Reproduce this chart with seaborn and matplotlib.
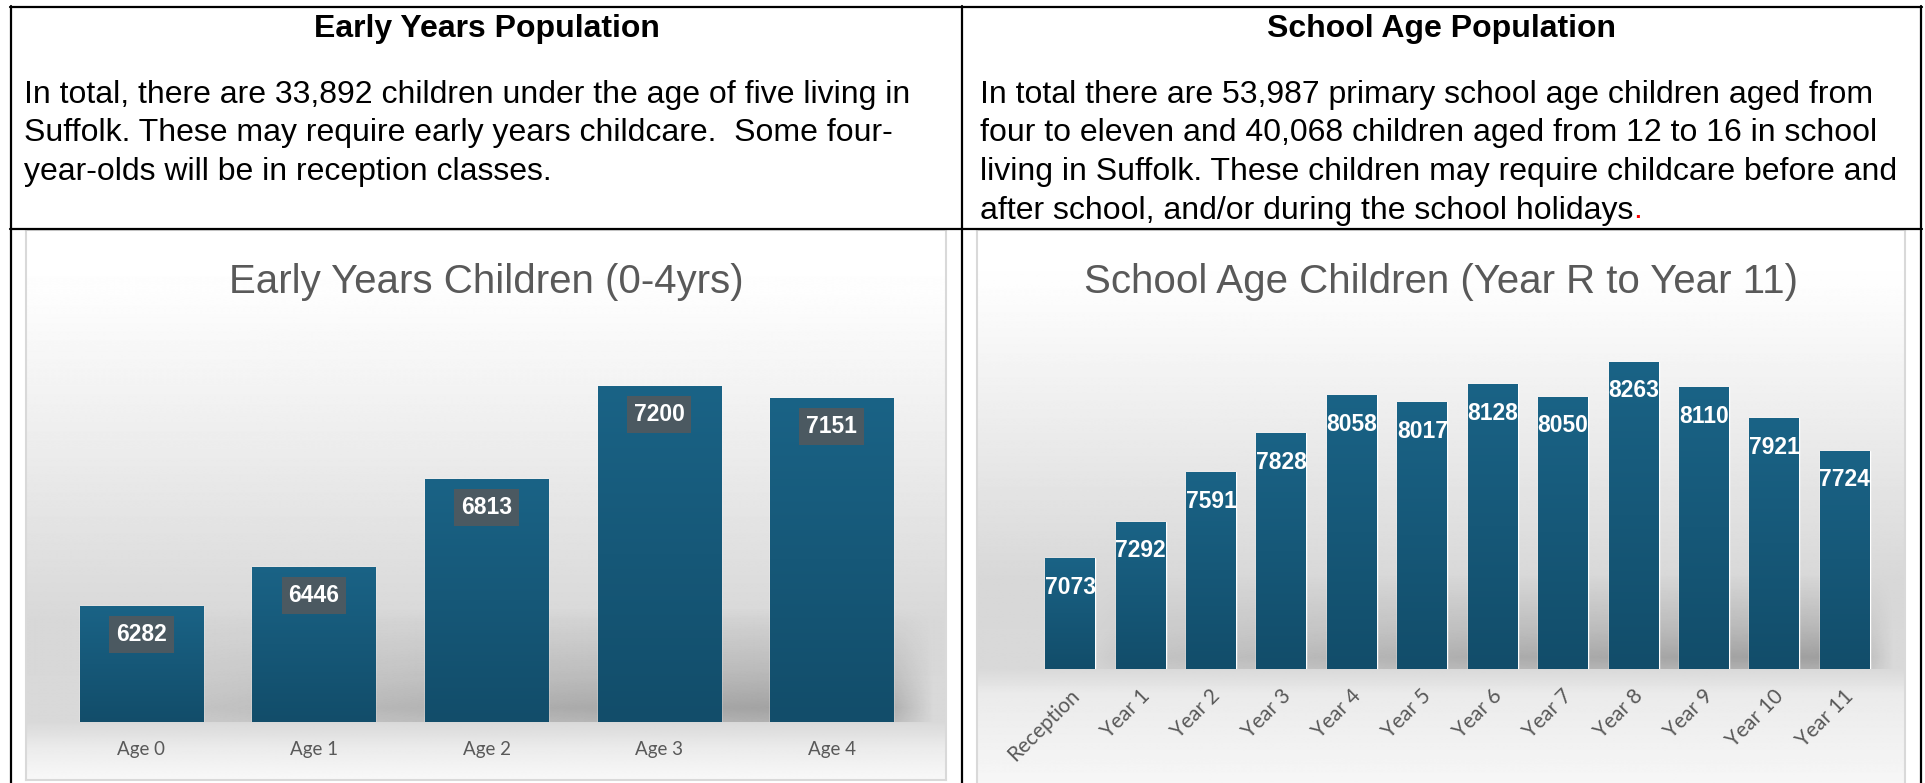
import numpy as np
import pandas as pd
import matplotlib
matplotlib.use("Agg")
import matplotlib.pyplot as plt
import seaborn as sns
from matplotlib.colors import LinearSegmentedColormap
from matplotlib.lines import Line2D
from matplotlib.transforms import ScaledTranslation

# ---------------- data ----------------
early_cats = ["Age 0", "Age 1", "Age 2", "Age 3", "Age 4"]
early_vals = [6282, 6446, 6813, 7200, 7151]

school_cats = ["Reception", "Year 1", "Year 2", "Year 3", "Year 4", "Year 5",
               "Year 6", "Year 7", "Year 8", "Year 9", "Year 10", "Year 11"]
school_vals = [7073, 7292, 7591, 7828, 8058, 8017, 8128, 8050, 8263, 8110, 7921, 7724]

left_header = "Early Years Population"
right_header = "School Age Population"
left_lines = [
    "In total, there are 33,892 children under the age of five living in",
    "Suffolk. These may require early years childcare.  Some four-",
    "year-olds will be in reception classes.",
]
right_lines = [
    "In total there are 53,987 primary school age children aged from",
    "four to eleven and 40,068 children aged from 12 to 16 in school",
    "living in Suffolk. These children may require childcare before and",
    "after school, and/or during the school holidays",
]
left_title = "Early Years Children (0-4yrs)"
right_title = "School Age Children (Year R to Year 11)"

# ---------------- setup ----------------
W, H = 1925, 783
sns.set_theme(style="white")
plt.rcParams['font.family'] = ['Liberation Sans', 'DejaVu Sans']
fig = plt.figure(figsize=(W / 100, H / 100), dpi=100)
fig.patch.set_facecolor("white")

GRAY_TXT = "#595959"
BAR_TOP = "#1a6386"
BAR_BOT = "#124d6a"
LABEL_BOX = "#4b5961"
NARROW = ['Liberation Sans Narrow', 'Liberation Sans', 'DejaVu Sans']
TICKF = ['Lato', 'Liberation Sans', 'DejaVu Sans']


def px_axes(x0, y0, x1, y1, z=0):
    ax = fig.add_axes([x0 / W, 1 - y1 / H, (x1 - x0) / W, (y1 - y0) / H], zorder=z)
    return ax


def fx(px):
    return px / W


def fy(py):
    return 1 - py / H


# ---------------- chart background boxes ----------------
def chart_box(x0, y0, x1, y1, base):
    ax = px_axes(x0, y0, x1, y1, z=0)
    n = 600
    ys = np.linspace(y0, y1, n)
    top_h = base - y0
    pos = [y0, y0 + 0.12 * top_h, y0 + 0.45 * top_h, y0 + 0.8 * top_h, base, base + 25, y1]
    val = [1.0, 0.995, 0.925, 0.845, 0.85, 0.92, 0.975]
    g = np.interp(ys, pos, val)
    img = np.repeat(g[:, None], 2, axis=1)
    ax.imshow(img, cmap="gray", vmin=0, vmax=1, aspect="auto",
              extent=[0, 1, 0, 1], origin="upper", interpolation="bilinear")
    ax.set_xlim(0, 1)
    ax.set_ylim(0, 1)
    ax.set_xticks([])
    ax.set_yticks([])
    for s in ax.spines.values():
        s.set_color("#d9d9d9")
        s.set_linewidth(1.5)
    return ax


def shadow_band(x0, x1, base, height):
    ax = px_axes(x0, base - height, x1, base, z=1)
    ny, nx = 200, 400
    yy = np.linspace(0, 1, ny)[:, None]          # 0 top, 1 baseline
    xx = np.linspace(0, 1, nx)[None, :]
    vprof = np.interp(yy, [0, 0.55, 0.88, 1.0], [0.0, 0.55, 1.0, 0.75])
    hprof = np.interp(xx, [0, 0.08, 0.5, 0.93, 1.0], [0.0, 0.35, 0.75, 1.0, 0.0])
    alpha = 0.27 * vprof * hprof
    rgba = np.zeros((ny, nx, 4))
    rgba[..., 3] = alpha
    ax.imshow(rgba, aspect="auto", extent=[0, 1, 0, 1], origin="upper",
              interpolation="bilinear")
    ax.set_xlim(0, 1)
    ax.set_ylim(0, 1)
    ax.axis("off")
    ax.patch.set_alpha(0)


def gradient_bars(ax, ymin):
    cmap = LinearSegmentedColormap.from_list("bars", [BAR_BOT, BAR_TOP])
    grad = np.linspace(1, 0, 256)[:, None]
    for p in list(ax.patches):
        x0, w, h = p.get_x(), p.get_width(), p.get_height()
        im = ax.imshow(grad, cmap=cmap, vmin=0, vmax=1, aspect="auto",
                       extent=[x0, x0 + w, ymin, h], origin="upper",
                       zorder=p.get_zorder() + 0.1, interpolation="bilinear")
        im.set_clip_path(p)


def style_axes(ax, n, ylim):
    ax.set_xlim(-0.5, n - 0.5)
    ax.set_ylim(*ylim)
    ax.patch.set_alpha(0)
    for s in ax.spines.values():
        s.set_visible(False)
    ax.set_yticks([])
    ax.set_xlabel("")
    ax.set_ylabel("")


# ---------------- left chart ----------------
chart_box(26, 230, 946, 780, 722)
shadow_band(120, 935, 722, 115)
axL = px_axes(55, 338, 918, 722, z=2)
dfL = pd.DataFrame({"cat": early_cats, "val": early_vals})
sns.barplot(data=dfL, x="cat", y="val", ax=axL, color=BAR_BOT, width=0.713,
            saturation=1, errorbar=None)
L_ylim = (5800, 7400)
gradient_bars(axL, L_ylim[0])
style_axes(axL, len(early_cats), L_ylim)
axL.tick_params(axis="x", length=0, pad=14, labelsize=13.5, labelcolor=GRAY_TXT)
for t in axL.get_xticklabels():
    t.set_fontfamily(TICKF)
for i, v in enumerate(early_vals):
    axL.annotate(f"{v}", (i, v), xytext=(0, -20.5), textcoords="offset points",
                 ha="center", va="center", color="white", fontsize=16.5,
                 fontweight="bold", zorder=5,
                 bbox=dict(boxstyle="square,pad=0.3", fc=LABEL_BOX, ec="none"))

# ---------------- right chart ----------------
chart_box(977, 230, 1905, 800, 669)
shadow_band(1070, 1895, 669, 95)
axR = px_axes(1035, 339, 1880, 669, z=2)
dfR = pd.DataFrame({"cat": school_cats, "val": school_vals})
sns.barplot(data=dfR, x="cat", y="val", ax=axR, color=BAR_BOT, width=0.71,
            saturation=1, errorbar=None)
R_ylim = (6400, 8400)
gradient_bars(axR, R_ylim[0])
style_axes(axR, len(school_cats), R_ylim)
axR.tick_params(axis="x", length=0, pad=17, labelsize=15, labelcolor=GRAY_TXT)
shift = ScaledTranslation(6 / 100, 0, fig.dpi_scale_trans)
for t in axR.get_xticklabels():
    t.set_fontfamily(TICKF)
    t.set_rotation(45)
    t.set_ha("right")
    t.set_va("center")
    t.set_rotation_mode("anchor")
    t.set_transform(t.get_transform() + shift)
for i, v in enumerate(school_vals):
    axR.annotate(f"{v}", (i, v), xytext=(0, -21), textcoords="offset points",
                 ha="center", va="center", color="white", fontsize=16.5,
                 fontweight="bold", zorder=5)

# ---------------- chart titles ----------------
fig.text(fx(486), fy(282), left_title, ha="center", va="center",
         fontsize=29, color=GRAY_TXT, family=NARROW)
fig.text(fx(1441), fy(282), right_title, ha="center", va="center",
         fontsize=29, color=GRAY_TXT, family=NARROW)

# ---------------- header texts ----------------
TXT = 23
fig.text(fx(486.5), fy(29), left_header, ha="center", va="center",
         fontsize=TXT, fontweight="bold", color="black")
fig.text(fx(1441.5), fy(29), right_header, ha="center", va="center",
         fontsize=TXT, fontweight="bold", color="black")
line_y = [95, 133.5, 172, 210.5]
for i, s in enumerate(left_lines):
    fig.text(fx(24), fy(line_y[i]), s, ha="left", va="center", fontsize=TXT, color="black")
last = None
for i, s in enumerate(right_lines):
    last = fig.text(fx(980), fy(line_y[i]), s, ha="left", va="center",
                    fontsize=TXT, color="black")
fig.canvas.draw()
bb = last.get_window_extent(renderer=fig.canvas.get_renderer())
fig.text(bb.x1 / W, fy(line_y[3]), ".", ha="left", va="center",
         fontsize=TXT, color="#ff0000")

# ---------------- table lines ----------------
LW = 1.6
def hline(y, x0, x1):
    fig.add_artist(Line2D([fx(x0), fx(x1)], [fy(y), fy(y)], color="black", lw=LW, zorder=10))
def vline(x, y0, y1):
    fig.add_artist(Line2D([fx(x), fx(x)], [fy(y0), fy(y1)], color="black", lw=LW, zorder=10))

hline(6.7, 10, 1922)
hline(229, 10, 1922)
vline(11, 6, 790)
vline(962, 6, 790)
vline(1921, 6, 790)

fig.savefig("out.png", dpi=100, facecolor="white")
